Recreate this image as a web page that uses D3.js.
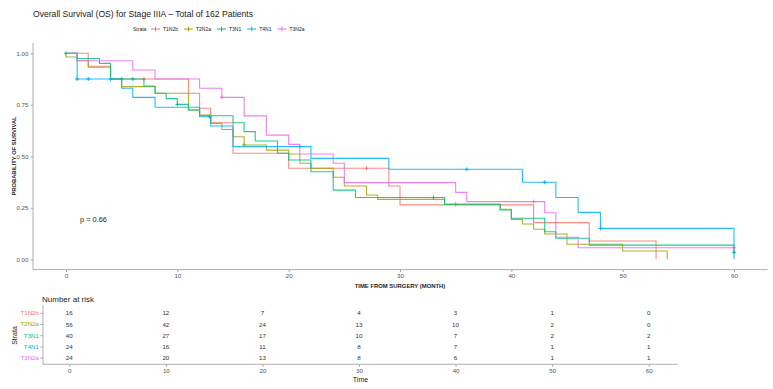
<!DOCTYPE html>
<html>
<head>
<meta charset="utf-8">
<script src="https://cdn.jsdelivr.net/npm/d3@7"></script>
<style>
  body { margin: 0; background: #fff; }
  text { font-family: "Liberation Sans", Arial, sans-serif; }
</style>
</head>
<body>
<div id="chart"></div>
<script>
const width = 773
const height = 389

// strata and colours (ggplot default hue palette)
const strata = ['T1N2b', 'T2N2a', 'T3N1', 'T4N1', 'T3N2a'];
const colors = ['#F8766D', '#A3A500', '#00BF7D', '#00B0F6', '#E76BF3'];

// KM step points (time in months, survival)
const t1n2bTime = [0, 2, 4, 11, 12, 13, 15, 20, 29, 30, 42, 47, 53];
const t1n2bSurv = [1, 0.9375, 0.875, 0.806, 0.733, 0.663, 0.515, 0.442, 0.356, 0.264, 0.178, 0.089, 0];
const t1n2bCens = [7, 27];

const t2n2aTime = [0, 0, 1, 2, 4, 5, 8, 11, 12, 13, 14, 15, 16, 18, 20, 21, 22, 24, 25, 27, 28, 34, 39, 40, 41, 42, 43, 45, 50, 54];
const t2n2aSurv = [1, 0.982, 0.964, 0.932, 0.875, 0.838, 0.806, 0.725, 0.70, 0.66, 0.63, 0.595, 0.555, 0.53, 0.511, 0.466, 0.442, 0.398, 0.356, 0.312, 0.291, 0.267, 0.243, 0.194, 0.171, 0.146, 0.123, 0.073, 0.04, 0];
const t2n2aCens = [16, 35];

const t3n1Time = [0, 1, 3, 4, 7, 8, 9, 10, 11, 12, 15, 16, 17, 19, 20, 22, 24, 26, 34, 39, 40, 43, 44, 47, 60];
const t3n1Surv = [1, 0.975, 0.951, 0.875, 0.841, 0.806, 0.78, 0.752, 0.725, 0.697, 0.663, 0.62, 0.574, 0.515, 0.482, 0.425, 0.336, 0.30, 0.267, 0.239, 0.199, 0.134, 0.102, 0.069, 0.034];
const t3n1Cens = [0, 5, 6, 10, 33, 60];

const t4n1Time = [0, 1, 5, 6, 8, 12, 13, 15, 22, 29, 41, 44, 46, 48, 60];
const t4n1Surv = [1, 0.875, 0.83, 0.786, 0.738, 0.692, 0.647, 0.547, 0.49, 0.437, 0.374, 0.30, 0.228, 0.15, 0];
const t4n1Cens = [1, 2, 4, 12.9, 21, 36, 43, 48];

const t3n2aTime = [0, 1, 6, 8, 12, 14, 16, 18, 20, 21, 24, 25, 35, 36, 43, 44, 46, 60];
const t3n2aSurv = [1, 0.964, 0.919, 0.875, 0.83, 0.786, 0.696, 0.603, 0.558, 0.511, 0.466, 0.372, 0.325, 0.28, 0.226, 0.107, 0.056, 0.056];
const t3n2aCens = [14, 42, 60];

// number at risk table
const riskTimes = [0, 10, 20, 30, 40, 50, 60];
const riskT1N2b = [16, 12, 7, 4, 3, 1, 0];
const riskT2N2a = [56, 42, 24, 13, 10, 2, 0];
const riskT3N1 = [40, 27, 17, 10, 7, 2, 2];
const riskT4N1 = [24, 16, 11, 8, 7, 1, 1];
const riskT3N2a = [24, 20, 13, 8, 6, 1, 1];

const xTicks = [0, 10, 20, 30, 40, 50, 60];
const yTicks = [0, 0.25, 0.5, 0.75, 1];

const curves = [
  {time: t1n2bTime, surv: t1n2bSurv, cens: t1n2bCens},
  {time: t2n2aTime, surv: t2n2aSurv, cens: t2n2aCens},
  {time: t3n1Time, surv: t3n1Surv, cens: t3n1Cens},
  {time: t4n1Time, surv: t4n1Surv, cens: t4n1Cens},
  {time: t3n2aTime, surv: t3n2aSurv, cens: t3n2aCens}
];
const risk = [riskT1N2b, riskT2N2a, riskT3N1, riskT4N1, riskT3N2a];

const axisGrey = '#a6a6a6';
const textGrey = '#555';

const svg = d3.select('#chart').append('svg').attr('width', width).attr('height', height);

// ---- main KM panel ----
const x = d3.scaleLinear().domain([0, 60]).range([66, 734]);
const y = d3.scaleLinear().domain([0, 1]).range([259.3, 53.3]);

svg.append('text')
  .attr('x', 33).attr('y', 17)
  .style('font-size', '8.6px').style('fill', '#222')
  .text('Overall Survival (OS) for Stage IIIA \u2013 Total of 162 Patients');

// legend
const legend = svg.append('g').attr('transform', 'translate(133,29)');
legend.append('text').attr('x', 0).attr('y', 1.8).style('font-size', '5px').style('fill', '#222').text('Strata');
let lx = 18;
strata.forEach((s, i) => {
  const g = legend.append('g').attr('transform', 'translate(' + lx + ',0)');
  g.append('line').attr('x1', 0).attr('x2', 9).attr('y1', 0).attr('y2', 0).attr('stroke', colors[i]).attr('stroke-width', 1);
  g.append('line').attr('x1', 4.5).attr('x2', 4.5).attr('y1', -2.3).attr('y2', 2.3).attr('stroke', colors[i]).attr('stroke-width', 1);
  const t = g.append('text').attr('x', 12).attr('y', 1.8).style('font-size', '5px').style('fill', '#222').text(s);
  lx += 12 + t.node().getComputedTextLength() + 6;
});

// axes
const yAxis = svg.append('g').attr('transform', 'translate(33,0)')
  .call(d3.axisLeft(y).tickValues(yTicks).tickFormat(d3.format('.2f')).tickSize(2.5).tickPadding(2));
const xAxis = svg.append('g').attr('transform', 'translate(0,269.6)')
  .call(d3.axisBottom(x).tickValues(xTicks).tickSize(2.5).tickPadding(2));
[yAxis, xAxis].forEach(a => {
  a.select('.domain').remove();
  a.selectAll('line').attr('stroke', axisGrey);
  a.selectAll('text').style('font-size', '6.2px').style('fill', textGrey);
});
svg.append('line').attr('x1', 33).attr('x2', 33).attr('y1', 43).attr('y2', 269.6).attr('stroke', axisGrey).attr('stroke-width', 0.9);
svg.append('line').attr('x1', 33).attr('x2', 767.5).attr('y1', 269.6).attr('y2', 269.6).attr('stroke', axisGrey).attr('stroke-width', 0.9);

svg.append('text')
  .attr('transform', 'translate(15.5,156) rotate(-90)')
  .attr('text-anchor', 'middle')
  .style('font-size', '5.8px').style('font-weight', 'bold').style('fill', '#222')
  .text('PROBABILITY OF SURVIVAL');
svg.append('text')
  .attr('x', 400).attr('y', 287.5).attr('text-anchor', 'middle')
  .style('font-size', '5.9px').style('font-weight', 'bold').style('fill', '#222')
  .text('TIME FROM SURGERY (MONTH)');

// curves
const line = d3.line().x(d => x(d[0])).y(d => y(d[1])).curve(d3.curveStepAfter);
const survAt = (c, t) => {
  let v = c.surv[0];
  c.time.forEach((tt, k) => { if (tt <= t) v = c.surv[k]; });
  return v;
};
curves.forEach((c, i) => {
  const pts = c.time.map((t, k) => [t, c.surv[k]]);
  svg.append('path').attr('d', line(pts)).attr('fill', 'none')
    .attr('stroke', colors[i]).attr('stroke-width', 1.1).attr('stroke-opacity', 0.85);
  c.cens.forEach(t => {
    const cx = x(t), cy = y(survAt(c, t));
    svg.append('path')
      .attr('d', 'M' + (cx - 2) + ',' + cy + 'H' + (cx + 2) + 'M' + cx + ',' + (cy - 2) + 'V' + (cy + 2))
      .attr('stroke', colors[i]).attr('stroke-width', 1);
  });
});

svg.append('text').attr('x', 80).attr('y', 221.5)
  .style('font-size', '7.4px').style('fill', '#222').text('p = 0.66');

// ---- number at risk table ----
const xt = d3.scaleLinear().domain([0, 60]).range([69.3, 648.7]);
const yt = d3.scaleBand().domain(strata).range([307.7, 363.7]);

svg.append('text').attr('x', 42).attr('y', 301.8)
  .style('font-size', '8px').style('fill', '#222').text('Number at risk');

const tyAxis = svg.append('g').attr('transform', 'translate(43,0)')
  .call(d3.axisLeft(yt).tickSize(2.5).tickPadding(1.5));
const txAxis = svg.append('g').attr('transform', 'translate(0,364.3)')
  .call(d3.axisBottom(xt).tickValues(xTicks).tickSize(2.5).tickPadding(1.5));
[tyAxis, txAxis].forEach(a => {
  a.select('.domain').remove();
  a.selectAll('line').attr('stroke', axisGrey);
  a.selectAll('text').style('font-size', '6.2px').style('fill', textGrey);
});
tyAxis.selectAll('text').style('fill', (d, i) => colors[i]);
svg.append('line').attr('x1', 43).attr('x2', 43).attr('y1', 305).attr('y2', 364.3).attr('stroke', axisGrey).attr('stroke-width', 0.9);
svg.append('line').attr('x1', 43).attr('x2', 677.5).attr('y1', 364.3).attr('y2', 364.3).attr('stroke', axisGrey).attr('stroke-width', 0.9);

strata.forEach((s, i) => {
  svg.append('g').selectAll('text').data(riskTimes).enter().append('text')
    .attr('x', d => xt(d))
    .attr('y', yt(s) + yt.bandwidth() / 2)
    .attr('dy', '0.35em')
    .attr('text-anchor', 'middle')
    .style('font-size', '6.2px').style('fill', '#333')
    .text((d, k) => risk[i][k]);
});

svg.append('text')
  .attr('transform', 'translate(16.5,335.5) rotate(-90)')
  .attr('text-anchor', 'middle')
  .style('font-size', '7px').style('fill', '#222').text('Strata');
svg.append('text').attr('x', 360.5).attr('y', 381.8).attr('text-anchor', 'middle')
  .style('font-size', '7px').style('fill', '#222').text('Time');
</script>
</body>
</html>
